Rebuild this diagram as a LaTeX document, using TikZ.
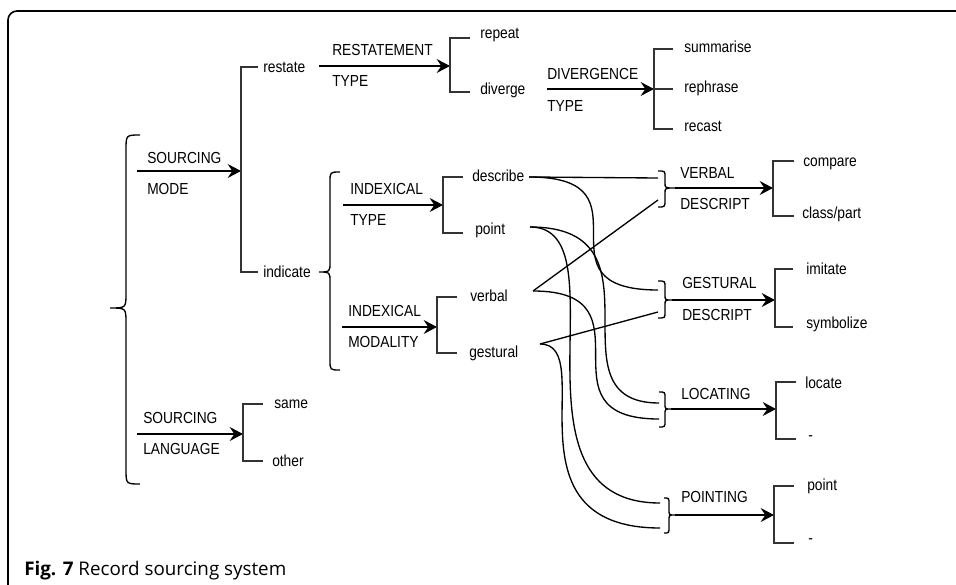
\documentclass[tikz,border=0pt]{standalone}
\usepackage{fontspec}
\setmainfont{Liberation Sans}[FakeStretch=0.86]
\newfontfamily\capfont{Open Sans}
\usetikzlibrary{arrows.meta}

\begin{document}
\begin{tikzpicture}[x=0.75pt,y=-0.75pt,
  lbl/.style={anchor=west,inner sep=0pt,text height=8.6pt,text depth=0pt,
              font=\fontsize{12}{14}\selectfont},
  conn/.style={line width=1pt},
  bkt/.style={line width=1.2pt,black!80},
  arr/.style={line width=1pt,-{Stealth[length=10pt,width=10.5pt,inset=3.5pt]}},
  brc/.style={line width=1pt}]

\useasboundingbox (0,0) rectangle (956,585);

% frame
\draw[line width=1.2pt] (8,585) -- (8,20) arc[start angle=180,end angle=270,radius=9] -- (956,11);

% ---------- SOURCING MODE / SOURCING LANGUAGE ----------
\draw[brc] (140,135) .. controls (126,135) .. (126,150) -- (126,293)
  .. controls (126,308) .. (110,308) .. controls (126,308) .. (126,323)
  -- (126,469) .. controls (126,484) .. (140,484);

\node[lbl] (smA) at (147,158) {SOURCING};
\node[lbl] (smB) at (147,189) {MODE};
\coordinate (sm-in) at (137,171);
\coordinate (sm-br) at (241,171);
\draw[arr] (sm-in) -- (sm-br);
\coordinate (sm-t) at (241,67);
\coordinate (sm-b) at (241,272);
\draw[bkt] (258,67) -- (sm-t) -- (sm-b) -- (258,272);
\node[lbl] (restate) at (263,67) {restate};
\node[lbl] (indicate) at (263,272) {indicate};

\node[lbl] (slA) at (143,418) {SOURCING};
\node[lbl] (slB) at (143,449) {LANGUAGE};
\coordinate (sl-in) at (137,434);
\coordinate (sl-br) at (243,434);
\draw[arr] (sl-in) -- (sl-br);
\draw[bkt] (263,404) -- (243,404) -- (243,461) -- (263,461);
\node[lbl] (same) at (274,403) {same};
\node[lbl] (other) at (272,461) {other};

% ---------- RESTATEMENT ----------
\node[lbl] (rtA) at (332,50) {RESTATEMENT};
\node[lbl] (rtB) at (332,81) {TYPE};
\coordinate (rt-in) at (319,66);
\coordinate (rt-br) at (450,66);
\draw[arr] (rt-in) -- (rt-br);
\draw[bkt] (470,38) -- (450,38) -- (450,92) -- (470,92);
\node[lbl] (repeat) at (480,33) {repeat};
\node[lbl] (diverge) at (480,89) {diverge};

\node[lbl] (dtA) at (547,74) {DIVERGENCE};
\node[lbl] (dtB) at (547,106) {TYPE};
\coordinate (dt-in) at (547,89);
\coordinate (dt-br) at (654,89);
\draw[arr] (dt-in) -- (dt-br);
\draw[bkt] (673,49) -- (654,49) -- (654,129) -- (673,129);
\draw[bkt] (dt-br) -- (673,89);
\node[lbl] (summarise) at (684,47) {summarise};
\node[lbl] (rephrase) at (684,87) {rephrase};
\node[lbl] (recast) at (684,126) {recast};

% ---------- INDEXICAL ----------
\draw[brc] (340,172) .. controls (330,172) .. (330,182) -- (330,262)
  .. controls (330,272) .. (319,272) .. controls (330,272) .. (330,282)
  -- (330,360) .. controls (330,370) .. (340,370);

\node[lbl] (itA) at (350,189) {INDEXICAL};
\node[lbl] (itB) at (350,220) {TYPE};
\coordinate (it-in) at (343,205);
\coordinate (it-br) at (443,205);
\draw[arr] (it-in) -- (it-br);
\draw[bkt] (463,177) -- (443,177) -- (443,233) -- (463,233);
\node[lbl] (describe) at (472,176) {describe};
\node[lbl] (point) at (475,229) {point};

\node[lbl] (imA) at (348,311) {INDEXICAL};
\node[lbl] (imB) at (348,342) {MODALITY};
\coordinate (im-in) at (342,327);
\coordinate (im-br) at (437,327);
\draw[arr] (im-in) -- (im-br);
\draw[bkt] (457,297) -- (437,297) -- (437,353) -- (457,353);
\node[lbl] (verbal) at (470,296) {verbal};
\node[lbl] (gestural) at (469,352) {gestural};

% ---------- right-hand systems ----------
% VERBAL DESCRIPT
\draw[brc] (658,171) .. controls (665,171) .. (665,177) -- (665,183)
  .. controls (665,188) .. (675,188) .. controls (665,188) .. (665,193)
  -- (665,200) .. controls (665,207) .. (658,207);
\node[lbl] (vdA) at (680,173) {VERBAL};
\node[lbl] (vdB) at (680,204) {DESCRIPT};
\coordinate (vd-in) at (675,188);
\coordinate (vd-br) at (773,188);
\draw[arr] (vd-in) -- (vd-br);
\draw[bkt] (794,161) -- (773,161) -- (773,216) -- (794,216);
\node[lbl] (compare) at (803,161) {compare};
\node[lbl] (classpart) at (802,213) {class/part};

% GESTURAL DESCRIPT
\draw[brc] (658,281) .. controls (665,281) .. (665,287) -- (665,295)
  .. controls (665,300) .. (672,300) .. controls (665,300) .. (665,305)
  -- (665,312) .. controls (665,318) .. (658,318);
\node[lbl] (gdA) at (682,283) {GESTURAL};
\node[lbl] (gdB) at (682,315) {DESCRIPT};
\coordinate (gd-in) at (672,300);
\coordinate (gd-br) at (775,300);
\draw[arr] (gd-in) -- (gd-br);
\draw[bkt] (793,269) -- (775,269) -- (775,327) -- (793,327);
\node[lbl] (imitate) at (806,269) {imitate};
\node[lbl] (symbolize) at (806,323) {symbolize};

% LOCATING
\draw[brc] (659,392) .. controls (665,392) .. (665,398) -- (665,404)
  .. controls (665,409) .. (671,409) .. controls (665,409) .. (665,414)
  -- (665,421) .. controls (665,427) .. (659,427);
\node[lbl] (loc) at (681,394) {LOCATING};
\coordinate (loc-in) at (671,409);
\coordinate (loc-br) at (776,409);
\draw[arr] (loc-in) -- (loc-br);
\draw[bkt] (796,382) -- (776,382) -- (776,439) -- (796,439);
\node[lbl] (locate) at (805,383) {locate};
\node[lbl] (locnone) at (808,435) {-};

% POINTING
\draw[brc] (664,498) .. controls (669,498) .. (669,504) -- (669,510)
  .. controls (669,515) .. (675,515) .. controls (669,515) .. (669,520)
  -- (669,527) .. controls (669,533) .. (664,533);
\node[lbl] (pnt) at (681,497) {POINTING};
\coordinate (pnt-in) at (675,515);
\coordinate (pnt-br) at (774,515);
\draw[arr] (pnt-in) -- (pnt-br);
\draw[bkt] (794,486) -- (774,486) -- (774,543) -- (794,543);
\node[lbl] (pointB) at (807,485) {point};
\node[lbl] (pntnone) at (808,538) {-};

% ---------- cross connections ----------
\coordinate (describe-o) at (529,177);
\coordinate (point-o) at (530,227);
\coordinate (verbal-o) at (533,291);
\coordinate (gestural-o) at (540,344);

\coordinate (vd-t) at (658,178);
\coordinate (vd-b) at (658,200);
\coordinate (gd-t) at (658,290);
\coordinate (gd-b) at (658,312);
\coordinate (loc-t) at (659,403);
\coordinate (loc-b) at (659,419);
\coordinate (pnt-t) at (660,503);
\coordinate (pnt-b) at (660,528);

\draw[conn] (describe-o) -- (vd-t);
\draw[conn] (describe-o) .. controls (658,177) and (529,290) .. (gd-t);
\draw[conn] (point-o) .. controls (672,227) and (545,403) .. (loc-t);
\draw[conn] (point-o) .. controls (626,227) and (497,503) .. (pnt-t);
\draw[conn] (verbal-o) -- (vd-b);
\draw[conn] (verbal-o) .. controls (658,291) and (533,419) .. (loc-b);
\draw[conn] (gestural-o) -- (gd-b);
\draw[conn] (gestural-o) .. controls (600,344) and (500,528) .. (pnt-b);

% caption
\node[anchor=base west,inner sep=0pt] (caption) at (24,575)
  {\capfont\fontsize{14.1}{16}\selectfont\textbf{Fig. 7} Record sourcing system};

\end{tikzpicture}
\end{document}
